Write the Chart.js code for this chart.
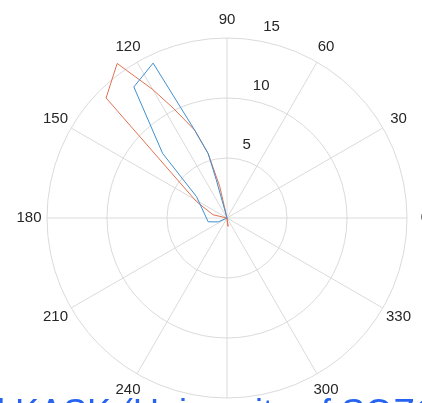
<!DOCTYPE html>
<html>
<head>
<meta charset="utf-8">
<script src="https://cdn.jsdelivr.net/npm/chart.js@4/dist/chart.umd.min.js"></script>
<style>
  html, body { margin: 0; padding: 0; background: #ffffff; }
  #wrap { position: relative; width: 422px; height: 403px; overflow: hidden; }
</style>
</head>
<body>
<div id="wrap"><canvas id="polar" width="422" height="403"></canvas></div>
<script>
// Angles in degrees (counter-clockwise from 0 at the right), radii in data units
const blueTheta = [0, 105.7, 106.3, 110.2, 115.5, 125.4, 134.9, 145.0, 191.4, 204.0, 220.0, 360];
const blueRho   = [0, 3.3,   5.6,   7.8,   14.3,  13.4,  7.6,   3.1,   1.6,   0.8,   0,     0];

const redTheta  = [0, 103.0, 106.3, 110.2, 116.1, 120.0, 125.4, 135.2, 151.7, 167.0, 180.0, 277.0, 300.0, 360];
const redRho    = [0, 2.7,   5.6,   7.8,   10.2,  12.35, 15.8,  14.2,  2.9,   1.2,   0,     0.7,   0,     0];

const rTicks     = [5, 10, 15];
const thetaTicks = [0, 30, 60, 90, 120, 150, 180, 210, 240, 270, 300, 330];
const thetaLabels = ['0', '30', '60', '90', '120', '150', '180', '210', '240', '', '300', '330'];
const rMax = 15;
const footerText = 'l KASK (University of SOZO';

const toXY = (theta, rho) => theta.map((t, i) => {
  const a = t * Math.PI / 180;
  return { x: rho[i] * Math.cos(a), y: rho[i] * Math.sin(a) };
});

// Polar grid, angle labels and radius labels drawn on the cartesian scales
const polarGrid = {
  id: 'polarGrid',
  beforeDatasetsDraw(chart) {
    const { ctx, scales: { x, y } } = chart;
    const cx = x.getPixelForValue(0), cy = y.getPixelForValue(0);
    const unit = x.getPixelForValue(1) - cx;
    ctx.save();
    ctx.strokeStyle = '#dadada';
    ctx.lineWidth = 1;
    rTicks.forEach(r => {
      ctx.beginPath();
      ctx.arc(cx, cy, r * unit, 0, Math.PI * 2);
      ctx.stroke();
    });
    thetaTicks.forEach(t => {
      const a = t * Math.PI / 180;
      ctx.beginPath();
      ctx.moveTo(cx, cy);
      ctx.lineTo(x.getPixelForValue(rMax * Math.cos(a)), y.getPixelForValue(rMax * Math.sin(a)));
      ctx.stroke();
    });
    ctx.restore();
  },
  afterDatasetsDraw(chart) {
    const { ctx, scales: { x, y } } = chart;
    const cx = x.getPixelForValue(0), cy = y.getPixelForValue(0);
    const unit = x.getPixelForValue(1) - cx;
    ctx.save();
    ctx.fillStyle = '#262626';
    ctx.font = '15px "Liberation Sans", Arial, sans-serif';
    ctx.textAlign = 'center';
    ctx.textBaseline = 'middle';
    const labelR = rMax * unit + 18;
    thetaTicks.forEach((t, i) => {
      const a = t * Math.PI / 180;
      ctx.fillText(thetaLabels[i], cx + labelR * Math.cos(a), cy - labelR * Math.sin(a));
    });
    ctx.textAlign = 'left';
    const ra = 80 * Math.PI / 180;
    rTicks.forEach(r => {
      const px = cx + r * unit * Math.cos(ra), py = cy - r * unit * Math.sin(ra);
      ctx.fillText(String(r), px + 5, py - 14);
    });
    ctx.restore();
  },
  afterDraw(chart) {
    const { ctx } = chart;
    ctx.save();
    ctx.fillStyle = '#2563f0';
    ctx.font = '36px "Liberation Sans", Arial, sans-serif';
    ctx.textAlign = 'left';
    ctx.textBaseline = 'alphabetic';
    ctx.fillText(footerText, -3, 425);
    ctx.restore();
  }
};

new Chart(document.getElementById('polar'), {
  type: 'scatter',
  data: {
    datasets: [
      {
        data: toXY(blueTheta, blueRho),
        showLine: true,
        borderColor: '#3f8fd0',
        borderWidth: 1,
        pointRadius: 0,
        fill: false,
        clip: false
      },
      {
        data: toXY(redTheta, redRho),
        showLine: true,
        borderColor: '#e07252',
        borderWidth: 1,
        pointRadius: 0,
        fill: false,
        clip: false
      }
    ]
  },
  options: {
    responsive: false,
    animation: false,
    layout: { padding: { left: 47, right: 15, top: 38, bottom: 5 } },
    plugins: { legend: { display: false }, tooltip: { enabled: false } },
    scales: {
      x: { type: 'linear', min: -rMax, max: rMax, display: false },
      y: { type: 'linear', min: -rMax, max: rMax, display: false }
    }
  },
  plugins: [polarGrid]
});
</script>
</body>
</html>
